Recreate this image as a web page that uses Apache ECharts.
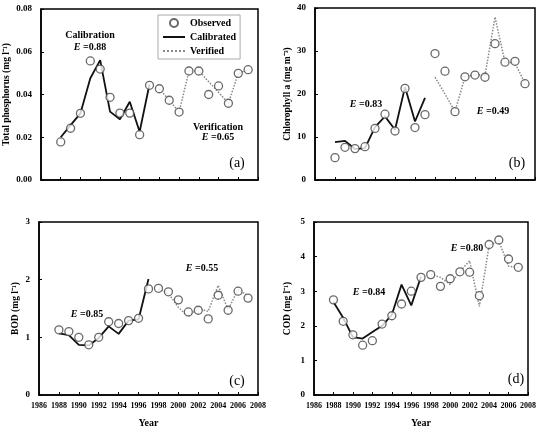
<!DOCTYPE html>
<html><head><meta charset="utf-8">
<script src="https://cdn.jsdelivr.net/npm/echarts@6/dist/echarts.min.js"></script>
<style>html,body{margin:0;padding:0;background:#fff}#c{width:539px;height:429px}</style>
</head><body><div id="c"></div>
<script>
const years = [1988,1989,1990,1991,1992,1993,1994,1995,1996,1997,1998,1999,2000,2001,2002,2003,2004,2005,2006,2007];
const calYears = [1988,1989,1990,1991,1992,1993,1994,1995,1996,1997];
const verYears = [1998,1999,2000,2001,2002,2003,2004,2005,2006,2007];
const xTicks = [1986,1988,1990,1992,1994,1996,1998,2000,2002,2004,2006,2008];

const tpObs = [0.0178,0.0242,0.0312,0.0557,0.0519,0.0387,0.0313,0.0313,0.0212,0.0443,0.0427,0.0373,0.0318,0.0510,0.0510,0.0400,0.0440,0.0359,0.0499,0.0516];
const tpCal = [0.0200,0.0257,0.0312,0.0476,0.0561,0.0320,0.0284,0.0366,0.0226,0.0448];
const tpVer = [0.0427,0.0373,0.0318,0.0510,0.0510,0.0460,0.0410,0.0359,0.0499,0.0516];

const chlObs = [5.2,7.6,7.3,7.75,12.0,15.3,11.4,21.3,12.2,15.2,29.4,25.3,15.9,24.0,24.4,23.9,31.7,27.4,27.6,22.4];
const chlCal = [8.8,9.1,7.2,7.4,12.3,14.8,11.7,21.6,13.6,19.1];
const chlVer = [23.9,20.0,15.9,24.0,24.5,24.3,37.9,27.4,27.2,22.5];

const bodObs = [1.13,1.10,1.00,0.87,1.00,1.27,1.24,1.29,1.33,1.84,1.85,1.79,1.65,1.44,1.47,1.32,1.73,1.47,1.80,1.68];
const bodCal = [1.07,1.04,0.87,0.86,0.99,1.19,1.06,1.29,1.31,2.01];
const bodVer = [1.84,1.76,1.52,1.36,1.50,1.45,1.90,1.48,1.83,1.72];

const codObs = [2.75,2.13,1.74,1.44,1.57,2.05,2.29,2.63,3.00,3.40,3.48,3.14,3.36,3.56,3.55,2.87,4.35,4.48,3.93,3.69];
const codCal = [2.69,2.23,1.67,1.63,1.82,2.00,2.32,3.19,2.59,3.42];
const codVer = [3.48,3.40,3.20,3.57,3.88,2.56,4.32,4.45,3.72,3.69];

const panels = [
  {obs: tpObs, cal: tpCal, ver: tpVer, yName: 'Total phosphorus (mg l\u207B\u00B9)', min: 0, max: 0.08, interval: 0.02, dec: 2, nameGap: 29},
  {obs: chlObs, cal: chlCal, ver: chlVer, yName: 'Chlorophyll a (mg m\u207B\u00B3)', min: 0, max: 40, interval: 10, dec: 0, nameGap: 22},
  {obs: bodObs, cal: bodCal, ver: bodVer, yName: 'BOD (mg l\u207B\u00B9)', min: 0, max: 3, interval: 1, dec: 0, nameGap: 18},
  {obs: codObs, cal: codCal, ver: codVer, yName: 'COD (mg l\u207B\u00B9)', min: 0, max: 5, interval: 1, dec: 0, nameGap: 21}
];

const FONT = 'Liberation Serif';
const grids = [
  {left: 41, top: 9, width: 217, height: 171},
  {left: 315, top: 8, width: 220, height: 172},
  {left: 39, top: 222, width: 219, height: 176},
  {left: 314, top: 222, width: 221, height: 173}
];

const zip = (xs, ys) => xs.map((x, i) => [x, ys[i]]);

const xAxes = [], yAxes = [], series = [];
panels.forEach((p, i) => {
  const showX = i >= 2;
  xAxes.push({
    type: 'value', gridIndex: i, min: 1986, max: 2008, interval: 2,
    axisLine: {show: true, lineStyle: {color: '#000', width: 1.5}},
    axisTick: {show: true, inside: true, length: 3, lineStyle: {color: '#000'}},
    axisLabel: {show: showX, color: '#000', fontFamily: FONT, fontWeight: 'bold', fontSize: 8, margin: 7,
      formatter: v => String(v)},
    splitLine: {show: false},
    name: showX ? 'Year' : '', nameLocation: 'middle', nameGap: 23,
    nameTextStyle: {color: '#000', fontFamily: FONT, fontWeight: 'bold', fontSize: 10}
  });
  yAxes.push({
    type: 'value', gridIndex: i, min: p.min, max: p.max, interval: p.interval,
    axisLine: {show: true, lineStyle: {color: '#000', width: 1.5}},
    axisTick: {show: true, inside: true, length: 3, lineStyle: {color: '#000'}},
    axisLabel: {color: '#000', fontFamily: FONT, fontWeight: 'bold', fontSize: 9, margin: 9,
      formatter: v => v.toFixed(p.dec)},
    splitLine: {show: false},
    name: p.yName, nameLocation: 'middle', nameGap: p.nameGap, nameRotate: 90,
    nameTextStyle: {color: '#000', fontFamily: FONT, fontWeight: 'bold', fontSize: 9.5}
  });
  series.push({
    name: 'Calibrated', type: 'line', xAxisIndex: i, yAxisIndex: i,
    data: zip(calYears, p.cal), symbol: 'none', z: 2,
    lineStyle: {color: '#111', width: 1.8}, itemStyle: {color: '#111'}
  });
  series.push({
    name: 'Verified', type: 'line', xAxisIndex: i, yAxisIndex: i,
    data: zip(verYears, p.ver), symbol: 'none', z: 2,
    lineStyle: {color: '#888', width: 1.5, type: 'dotted'}, itemStyle: {color: '#888'}
  });
  series.push({
    name: 'Observed', type: 'scatter', xAxisIndex: i, yAxisIndex: i,
    data: zip(years, p.obs), symbol: 'circle', symbolSize: 8, z: 3,
    itemStyle: {color: '#fff', borderColor: '#444', borderWidth: 1.3}
  });
});

const txt = (x, y, text, size) => ({
  type: 'text', x: x, y: y, silent: true,
  style: {text: text, fill: '#000', font: 'bold ' + size + 'px "' + FONT + '"', align: 'center', verticalAlign: 'middle'}
});
const eTxt = (x, y, val) => ({
  type: 'text', x: x, y: y, silent: true,
  style: {
    text: '{i|E} =' + val, fill: '#000', align: 'center', verticalAlign: 'middle',
    font: 'bold 10px "' + FONT + '"',
    rich: {i: {fontStyle: 'italic', fontWeight: 'bold', fontFamily: FONT, fontSize: 10}}
  }
});
const tag = (x, y, t) => ({type: 'text', x: x, y: y, silent: true,
  style: {text: t, fill: '#000', font: '14px "' + FONT + '"', align: 'center', verticalAlign: 'middle'}});

const graphics = [
  txt(90, 35, 'Calibration', 10),
  eTxt(90, 47, '0.88'),
  txt(218, 127, 'Verification', 10),
  eTxt(218, 137, '0.65'),
  tag(237, 163, '(a)'),
  eTxt(366, 104, '0.83'),
  eTxt(493, 111, '0.49'),
  tag(517, 163, '(b)'),
  eTxt(87, 314, '0.85'),
  eTxt(202, 268, '0.55'),
  tag(237, 381, '(c)'),
  eTxt(369, 292, '0.84'),
  eTxt(467, 248, '0.80'),
  tag(516, 379, '(d)')
];

const chart = echarts.init(document.getElementById('c'), null, {renderer: 'canvas'});
chart.setOption({
  animation: false,
  backgroundColor: '#fff',
  grid: grids.map(g => Object.assign({show: true, borderColor: '#000', borderWidth: 1.5, backgroundColor: 'transparent'}, g)),
  xAxis: xAxes,
  yAxis: yAxes,
  legend: {
    data: [
      {name: 'Observed'},
      {name: 'Calibrated', itemStyle: {opacity: 0}},
      {name: 'Verified', itemStyle: {opacity: 0}}
    ],
    orient: 'vertical', left: 158, top: 15,
    borderColor: '#aaa', borderWidth: 1, padding: [3, 4, 3, 4],
    itemWidth: 22, itemHeight: 8, itemGap: 4,
    selectedMode: false,
    textStyle: {color: '#000', fontFamily: FONT, fontWeight: 'bold', fontSize: 10}
  },
  series: series,
  graphic: graphics
});
</script></body></html>
